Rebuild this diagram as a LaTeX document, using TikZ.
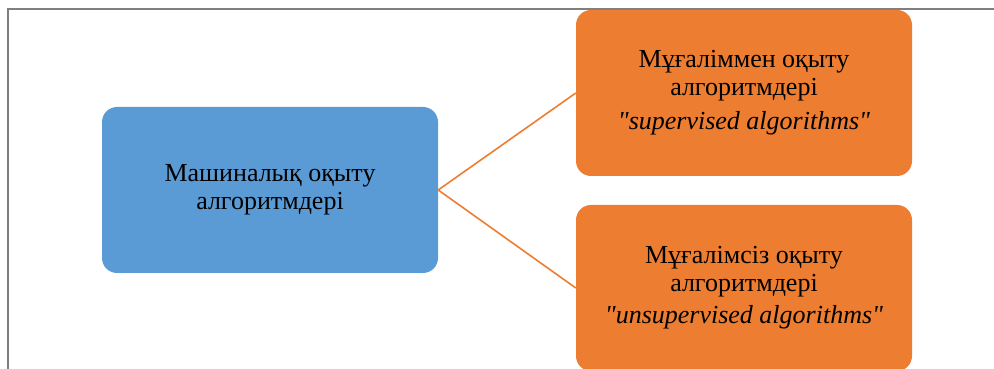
\documentclass[tikz,border=0pt]{standalone}
\usepackage{fontspec}
\setmainfont{Liberation Serif}[Ligatures=TeXOff]
\usepackage{xcolor}
\definecolor{boxblue}{HTML}{5B9BD5}
\definecolor{boxorange}{HTML}{ED7D31}
\definecolor{framegray}{HTML}{7F7F7F}
\begin{document}
\begin{tikzpicture}[x=1pt,y=1pt,
    algbox/.style={rounded corners=15pt,minimum width=336pt,minimum height=166pt,
      align=center,inner sep=0pt,font=\fontsize{26}{27.5}\selectfont},
    link/.style={boxorange,line width=1.6pt}]
                \useasboundingbox (0,0) rectangle (994,369);
                % frame
                \draw[framegray,line width=1.5pt] (8,0)--(8,360)--(994,360);
                % boxes
                \node[algbox,fill=boxblue] (ml) at (270,179) {Машиналық оқыту\\алгоритмдері};
                \node[algbox,fill=boxorange] (sup) at (744,276)
                    {Мұғаліммен оқыту\\алгоритмдері\\[7pt]\textit{"supervised algorithms"}};
                \node[algbox,fill=boxorange] (unsup) at (744,81)
                    {Мұғалімсіз оқыту\\алгоритмдері\\[5pt]\textit{"unsupervised algorithms"}};
                % connectors
                \draw[link] (ml.east)--(sup.west);
                \draw[link] (ml.east)--(unsup.west);
            \end{tikzpicture}
\end{document}
